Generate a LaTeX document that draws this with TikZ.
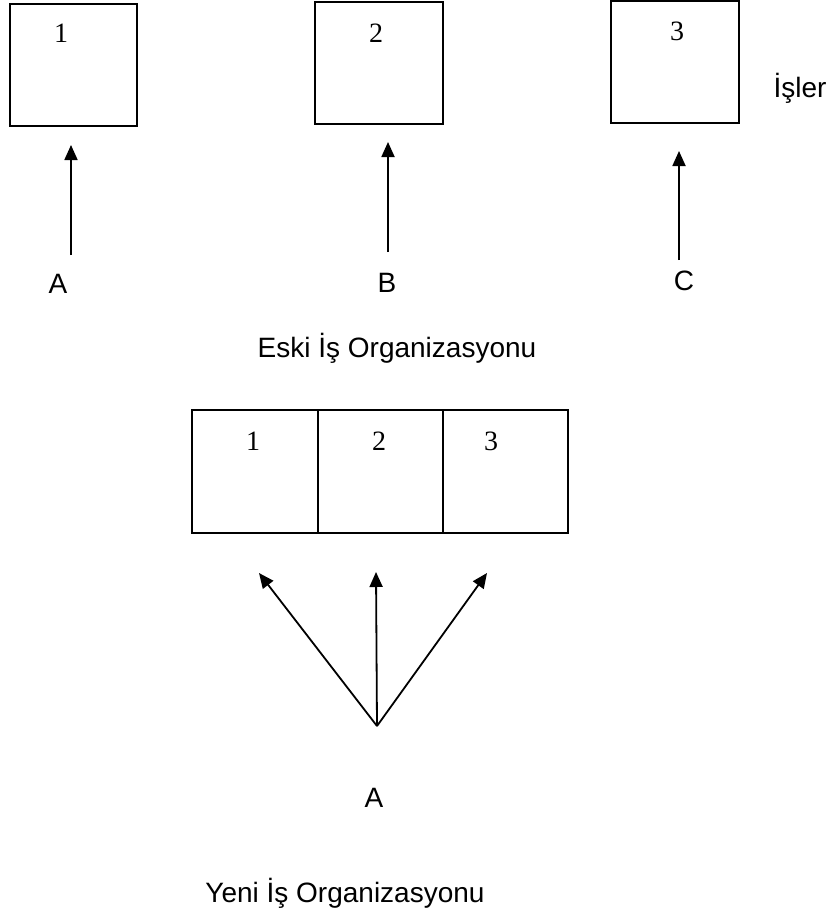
\documentclass[tikz,border=0pt]{standalone}
\usepackage{fontspec}
\setmainfont{Liberation Serif}
\newfontfamily\labelfont{Liberation Sans}
\usetikzlibrary{arrows.meta}

\tikzset{
  frame/.style={draw=black, line width=2pt},
  digit/.style={anchor=base, inner sep=0pt, font=\fontsize{28}{30}\selectfont},
  caption/.style={anchor=base, inner sep=0pt, font=\labelfont\fontsize{28}{30}\selectfont},
  arr/.style={line width=1.8pt, -{Triangle[length=15pt,width=13pt]}},
}

\begin{document}
\begin{tikzpicture}[x=1pt, y=-1pt]
\useasboundingbox (0,0) rectangle (830,910);

% old organisation: one worker per job
\draw[frame] (10,4) rectangle (137,126);
\draw[frame] (315,2) rectangle (443,124);
\draw[frame] (611,1) rectangle (739,123);
\node[digit] (d1) at (61,42) {1};
\node[digit] (d2) at (376,42) {2};
\node[digit] (d3) at (677,40) {3};
\node[caption] (isler) at (800,97) {İşler};

\node[caption] (wa) at (58,293) {A};
\node[caption] (wb) at (387,292) {B};
\node[caption] (wc) at (684,290) {C};
\coordinate (ta) at (71,255);  \coordinate (ha) at (71,145);
\coordinate (tb) at (388,252); \coordinate (hb) at (388,142);
\coordinate (tc) at (679,260); \coordinate (hc) at (679,151);
\draw[arr] (ta) -- (ha);
\draw[arr] (tb) -- (hb);
\draw[arr] (tc) -- (hc);

\node[caption] (old) at (397,357) {Eski İş Organizasyonu};

% new organisation: one worker over all jobs
\draw[frame] (192,410) rectangle (568,533);
\draw[frame] (318,410) -- (318,533);
\draw[frame] (443,410) -- (443,533);
\node[digit] (e1) at (253,450) {1};
\node[digit] (e2) at (379,450) {2};
\node[digit] (e3) at (491,450) {3};

\coordinate (fan) at (377,726);
\coordinate (fl) at (259,573);
\coordinate (fm) at (376,572);
\coordinate (fr) at (487,573);
\draw[arr] (fan) -- (fl);
\draw[arr] (fan) -- (fm);
\draw[arr] (fan) -- (fr);
\node[caption] (wn) at (374,807) {A};

\node[caption] (new) at (345,902) {Yeni İş Organizasyonu};
\end{tikzpicture}
\end{document}
